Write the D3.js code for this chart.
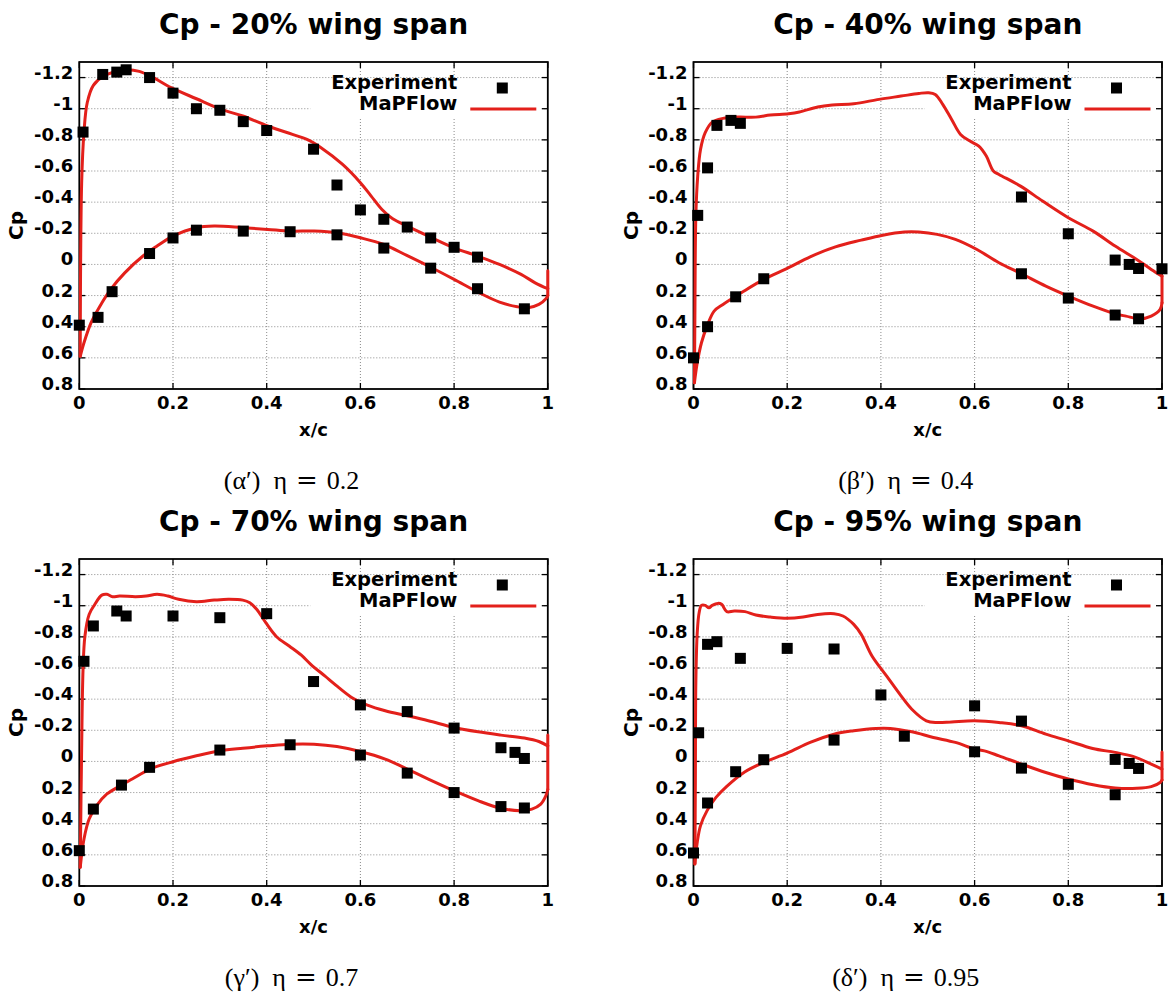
<!DOCTYPE html>
<html>
<head>
<meta charset="utf-8">
<script src="https://cdn.jsdelivr.net/npm/d3@7"></script>
<style>
  body { margin: 0; background: #fff; }
  svg text { font-family: "DejaVu Sans", sans-serif; font-weight: bold; fill: #000; }
  svg text.caption { font-family: "Liberation Serif", "DejaVu Serif", serif; font-weight: normal; }
</style>
</head>
<body>
<svg id="chart" width="1168" height="994"></svg>
<script>
var xTicks = [0, 0.2, 0.4, 0.6, 0.8, 1]
var yTicks = [-1.2, -1, -0.8, -0.6, -0.4, -0.2, 0, 0.2, 0.4, 0.6, 0.8]
var spans = ['20%', '40%', '70%', '95%']
var greek = ['α', 'β', 'γ', 'δ']
var etas = ['0.2', '0.4', '0.7', '0.95']

// experiment points [x/c, Cp]
var exp20 = [[0.008,-0.85],[0,0.39],[0.04,0.34],[0.05,-1.22],[0.08,-1.235],[0.1,-1.25],[0.15,-1.2],[0.2,-1.1],[0.25,-1.0],[0.3,-0.99],[0.35,-0.917],[0.4,-0.86],[0.5,-0.74],[0.55,-0.51],[0.6,-0.35],[0.65,-0.29],[0.7,-0.24],[0.75,-0.17],[0.8,-0.11],[0.85,-0.047],[0.95,0.285],
  [0.07,0.175],[0.15,-0.07],[0.2,-0.17],[0.25,-0.22],[0.35,-0.214],[0.45,-0.21],[0.55,-0.19],[0.65,-0.105],[0.75,0.024],[0.85,0.156]]
var exp40 = [[0.009,-0.315],[0.03,-0.62],[0.05,-0.893],[0.08,-0.925],[0.1,-0.906],[0.7,-0.433],[0.8,-0.197],[0.9,-0.028],[0.93,0],[0.95,0.026],[1,0.028],
  [0,0.6],[0.03,0.4],[0.09,0.208],[0.15,0.092],[0.7,0.06],[0.8,0.216],[0.9,0.325],[0.95,0.349]]
var exp70 = [[0.01,-0.643],[0.03,-0.87],[0.08,-0.966],[0.1,-0.934],[0.2,-0.934],[0.3,-0.923],[0.4,-0.949],[0.5,-0.513],[0.6,-0.363],[0.7,-0.32],[0.8,-0.214],[0.9,-0.088],[0.93,-0.058],[0.95,-0.019],
  [0,0.573],[0.03,0.306],[0.09,0.152],[0.15,0.038],[0.3,-0.073],[0.45,-0.107],[0.6,-0.041],[0.7,0.075],[0.8,0.2],[0.9,0.29],[0.95,0.299]]
var exp95 = [[0.011,-0.184],[0.03,-0.752],[0.05,-0.769],[0.1,-0.662],[0.2,-0.726],[0.3,-0.722],[0.4,-0.427],[0.45,-0.162],[0.6,-0.357],[0.7,-0.259],[0.9,-0.013],[0.93,0.013],[0.95,0.045],
  [0,0.588],[0.03,0.267],[0.09,0.066],[0.15,-0.011],[0.3,-0.137],[0.6,-0.062],[0.7,0.043],[0.8,0.147],[0.9,0.214]]

// MaPFlow, upper side from leading edge to trailing edge
var upper20 = [[0.002,0.59],[0.005,-0.52],[0.01,-0.85],[0.017,-1.04],[0.03,-1.15],[0.052,-1.21],[0.082,-1.24],[0.1,-1.25],[0.128,-1.24],[0.158,-1.2],[0.196,-1.135],[0.25,-1.064],[0.303,-0.996],[0.349,-0.953],[0.402,-0.889],[0.455,-0.835],[0.486,-0.803],[0.516,-0.75],[0.562,-0.642],[0.6,-0.525],[0.623,-0.439],[0.646,-0.353],[0.669,-0.293],[0.7,-0.246],[0.745,-0.182],[0.8,-0.107],[0.85,-0.054],[0.897,0],[0.943,0.064],[0.973,0.118],[1,0.156]]
var upper40 = [[0.002,0.76],[0.003,0.33],[0.005,-0.31],[0.009,-0.567],[0.015,-0.739],[0.025,-0.846],[0.04,-0.914],[0.063,-0.938],[0.094,-0.946],[0.133,-0.946],[0.164,-0.959],[0.203,-0.968],[0.226,-0.979],[0.265,-1.011],[0.296,-1.024],[0.342,-1.032],[0.396,-1.06],[0.443,-1.081],[0.481,-1.098],[0.501,-1.103],[0.516,-1.092],[0.532,-1.028],[0.551,-0.931],[0.57,-0.835],[0.59,-0.792],[0.609,-0.76],[0.625,-0.696],[0.64,-0.6],[0.652,-0.578],[0.698,-0.503],[0.745,-0.407],[0.8,-0.3],[0.853,-0.214],[0.9,-0.118],[0.946,-0.032],[0.977,0.032],[1,0.075]]
var upper70 = [[0.002,0.68],[0.005,-0.08],[0.008,-0.59],[0.012,-0.805],[0.021,-0.944],[0.033,-1.008],[0.048,-1.068],[0.059,-1.073],[0.071,-1.058],[0.086,-1.062],[0.12,-1.058],[0.143,-1.062],[0.166,-1.073],[0.189,-1.062],[0.212,-1.041],[0.25,-1.026],[0.288,-1.036],[0.318,-1.041],[0.349,-1.036],[0.364,-1.019],[0.379,-0.976],[0.398,-0.891],[0.421,-0.801],[0.448,-0.741],[0.474,-0.682],[0.494,-0.624],[0.524,-0.549],[0.554,-0.474],[0.585,-0.404],[0.615,-0.361],[0.653,-0.325],[0.7,-0.293],[0.745,-0.261],[0.8,-0.218],[0.851,-0.19],[0.9,-0.169],[0.95,-0.15],[0.981,-0.128],[1,-0.1]]
var upper95 = [[0.003,0.658],[0.004,0.135],[0.005,-0.506],[0.008,-0.827],[0.012,-0.955],[0.017,-1.002],[0.025,-1.002],[0.033,-0.987],[0.04,-1.002],[0.052,-1.015],[0.06,-1.009],[0.071,-0.962],[0.087,-0.966],[0.11,-0.962],[0.133,-0.94],[0.164,-0.927],[0.2,-0.919],[0.234,-0.927],[0.265,-0.944],[0.3,-0.949],[0.319,-0.934],[0.342,-0.88],[0.358,-0.816],[0.381,-0.677],[0.412,-0.549],[0.443,-0.421],[0.466,-0.335],[0.497,-0.261],[0.52,-0.25],[0.551,-0.254],[0.6,-0.261],[0.652,-0.25],[0.7,-0.229],[0.752,-0.175],[0.8,-0.132],[0.852,-0.083],[0.9,-0.058],[0.938,-0.032],[0.977,0.017],[1,0.049]]

// MaPFlow, lower side from trailing edge back to leading edge
var lower20 = [[1,0.2],[0.996,0.22],[0.981,0.257],[0.958,0.278],[0.935,0.272],[0.897,0.242],[0.851,0.178],[0.8,0.096],[0.745,0.01],[0.699,-0.058],[0.65,-0.128],[0.6,-0.171],[0.55,-0.203],[0.501,-0.214],[0.45,-0.214],[0.402,-0.225],[0.349,-0.236],[0.288,-0.246],[0.25,-0.236],[0.2,-0.182],[0.166,-0.118],[0.136,-0.054],[0.097,0.054],[0.067,0.16],[0.044,0.268],[0.025,0.375],[0.01,0.503],[0.002,0.59]]
var lower40 = [[1,0.246],[0.996,0.289],[0.977,0.332],[0.954,0.349],[0.923,0.332],[0.9,0.317],[0.853,0.268],[0.8,0.203],[0.752,0.139],[0.7,0.06],[0.652,-0.011],[0.605,-0.096],[0.559,-0.161],[0.52,-0.193],[0.481,-0.208],[0.45,-0.208],[0.404,-0.188],[0.358,-0.156],[0.303,-0.113],[0.249,-0.049],[0.203,0.021],[0.15,0.096],[0.102,0.182],[0.063,0.257],[0.044,0.3],[0.029,0.396],[0.017,0.503],[0.008,0.632],[0.002,0.76]]
var lower70 = [[1,0.18],[0.996,0.22],[0.985,0.274],[0.966,0.306],[0.943,0.316],[0.9,0.301],[0.851,0.252],[0.8,0.188],[0.745,0.113],[0.7,0.049],[0.653,-0.015],[0.6,-0.064],[0.55,-0.096],[0.501,-0.111],[0.45,-0.111],[0.402,-0.1],[0.349,-0.085],[0.3,-0.068],[0.25,-0.036],[0.2,0.002],[0.151,0.049],[0.113,0.113],[0.09,0.152],[0.059,0.209],[0.037,0.284],[0.021,0.37],[0.01,0.498],[0.002,0.68]]
var lower95 = [[1,0.12],[0.996,0.135],[0.977,0.162],[0.946,0.173],[0.9,0.171],[0.853,0.15],[0.8,0.113],[0.752,0.071],[0.7,0.017],[0.652,-0.036],[0.621,-0.068],[0.6,-0.079],[0.559,-0.122],[0.512,-0.154],[0.466,-0.19],[0.42,-0.212],[0.389,-0.212],[0.342,-0.197],[0.3,-0.175],[0.249,-0.122],[0.2,-0.053],[0.15,0.006],[0.11,0.066],[0.071,0.16],[0.048,0.231],[0.029,0.316],[0.015,0.412],[0.008,0.519],[0.003,0.658]]

// closing segment at x/c = 1 (Cp top, Cp bottom)
var te20 = [0.04, 0.2]
var te40 = [0.075, 0.246]
var te70 = [-0.17, 0.18]
var te95 = [-0.06, 0.12]

var red = '#e3201b'

var layout = {
  lefts: [79.3, 693.5],
  tops: [62, 559],
  w: 468.5,
  h: 327
}

var panels = [
  { exp: exp20, upper: upper20, lower: lower20, te: te20 },
  { exp: exp40, upper: upper40, lower: lower40, te: te40 },
  { exp: exp70, upper: upper70, lower: lower70, te: te70 },
  { exp: exp95, upper: upper95, lower: lower95, te: te95 }
]

var svg = d3.select('#chart')
svg.append('rect').attr('width', 1168).attr('height', 994).attr('fill', '#fff')

panels.forEach(function (p, i) {
  p.span = spans[i]
  p.greek = greek[i]
  p.eta = etas[i]
  renderPanel(p, layout.lefts[i % 2], layout.tops[Math.floor(i / 2)])
})

function fmt (v) {
  return String(+v.toFixed(1))
}

function renderPanel (p, left, top) {
  var w = layout.w, h = layout.h

  var x = d3.scaleLinear().domain([0, 1]).range([0, w])
  var y = d3.scaleLinear().domain([-1.3, 0.8]).range([0, h])

  var g = svg.append('g').attr('transform', `translate(${left}, ${top})`)

  // dotted grid
  g.append('g').selectAll('line').data(xTicks.slice(1, -1)).join('line')
      .attr('x1', d => x(d)).attr('x2', d => x(d))
      .attr('y1', 0).attr('y2', h)
  g.append('g').selectAll('line').data(yTicks.slice(0, -1)).join('line')
      .attr('x1', 0).attr('x2', w)
      .attr('y1', d => y(d)).attr('y2', d => y(d))
  g.selectAll('line')
      .attr('stroke', '#8a8a8a')
      .attr('stroke-width', 1)
      .attr('stroke-dasharray', '1,2')

  // legend background hides the grid
  g.append('rect')
      .attr('x', 231).attr('y', 18)
      .attr('width', w - 236).attr('height', 38)
      .attr('fill', '#fff')

  // frame and inward ticks on four sides
  var tk = 6
  var ticks = g.append('g').attr('stroke', '#000').attr('stroke-width', 1.3)
  xTicks.forEach(function (d) {
    ticks.append('line').attr('x1', x(d)).attr('x2', x(d)).attr('y1', h).attr('y2', h - tk)
    ticks.append('line').attr('x1', x(d)).attr('x2', x(d)).attr('y1', 0).attr('y2', tk)
  })
  yTicks.forEach(function (d) {
    ticks.append('line').attr('x1', 0).attr('x2', tk).attr('y1', y(d)).attr('y2', y(d))
    ticks.append('line').attr('x1', w).attr('x2', w - tk).attr('y1', y(d)).attr('y2', y(d))
  })
  g.append('rect')
      .attr('width', w).attr('height', h)
      .attr('fill', 'none')
      .attr('stroke', '#000')
      .attr('stroke-width', 1.8)

  // tick labels
  g.append('g').selectAll('text').data(yTicks).join('text')
      .attr('x', -6).attr('y', d => y(d) + 1)
      .attr('text-anchor', 'end')
      .attr('font-size', 18)
      .text(fmt)
  g.append('g').selectAll('text').data(xTicks).join('text')
      .attr('x', d => x(d)).attr('y', h + 20)
      .attr('text-anchor', 'middle')
      .attr('font-size', 18)
      .text(fmt)

  // axis titles
  g.append('text')
      .attr('x', w / 2).attr('y', h + 47)
      .attr('text-anchor', 'middle')
      .attr('font-size', 18)
      .text('x/c')
  g.append('text')
      .attr('transform', `translate(-56, ${h / 2}) rotate(-90)`)
      .attr('text-anchor', 'middle')
      .attr('font-size', 20)
      .text('Cp')

  // panel title
  g.append('text')
      .attr('x', w / 2).attr('y', -28)
      .attr('text-anchor', 'middle')
      .attr('font-size', 28)
      .text('Cp - ' + p.span + ' wing span')

  // MaPFlow curve
  var line = d3.line()
      .x(d => x(d[0]))
      .y(d => y(d[1]))
      .curve(d3.curveCatmullRom.alpha(0.5))

  var curves = g.append('g')
      .attr('fill', 'none')
      .attr('stroke', red)
      .attr('stroke-width', 3)
      .attr('stroke-linecap', 'round')
      .attr('stroke-linejoin', 'round')
  curves.append('path').attr('d', line(p.upper))
  curves.append('path').attr('d', line(p.lower))
  curves.append('path').attr('d', d3.line()([[x(1), y(p.te[0])], [x(1), y(p.te[1])]]))

  // experiment squares
  var s = 11
  g.append('g').selectAll('rect').data(p.exp).join('rect')
      .attr('x', d => x(d[0]) - s / 2)
      .attr('y', d => y(d[1]) - s / 2)
      .attr('width', s).attr('height', s)
      .attr('fill', '#000')

  // legend
  var lg = g.append('g')
  lg.append('text')
      .attr('x', 378).attr('y', 27)
      .attr('text-anchor', 'end')
      .attr('font-size', 19.5)
      .text('Experiment')
  lg.append('text')
      .attr('x', 378).attr('y', 48)
      .attr('text-anchor', 'end')
      .attr('font-size', 19.5)
      .text('MaPFlow')
  lg.append('rect')
      .attr('x', 423 - s / 2).attr('y', 26 - s / 2)
      .attr('width', s).attr('height', s)
      .attr('fill', '#000')
  lg.append('line')
      .attr('x1', 391).attr('x2', 457)
      .attr('y1', 47).attr('y2', 47)
      .attr('stroke', red).attr('stroke-width', 3)

  // sub-figure caption
  var cap = g.append('text')
      .attr('class', 'caption')
      .attr('x', w / 2 - 22).attr('y', h + 100)
      .attr('text-anchor', 'middle')
      .attr('font-size', 26)
  cap.append('tspan').text('(' + p.greek + '′)')
  cap.append('tspan').attr('dx', 13).text('η')
  cap.append('tspan').attr('dx', 9).attr('font-family', 'DejaVu Serif').text('=')
  cap.append('tspan').attr('dx', 9).text(p.eta)
}
</script>
</body>
</html>
